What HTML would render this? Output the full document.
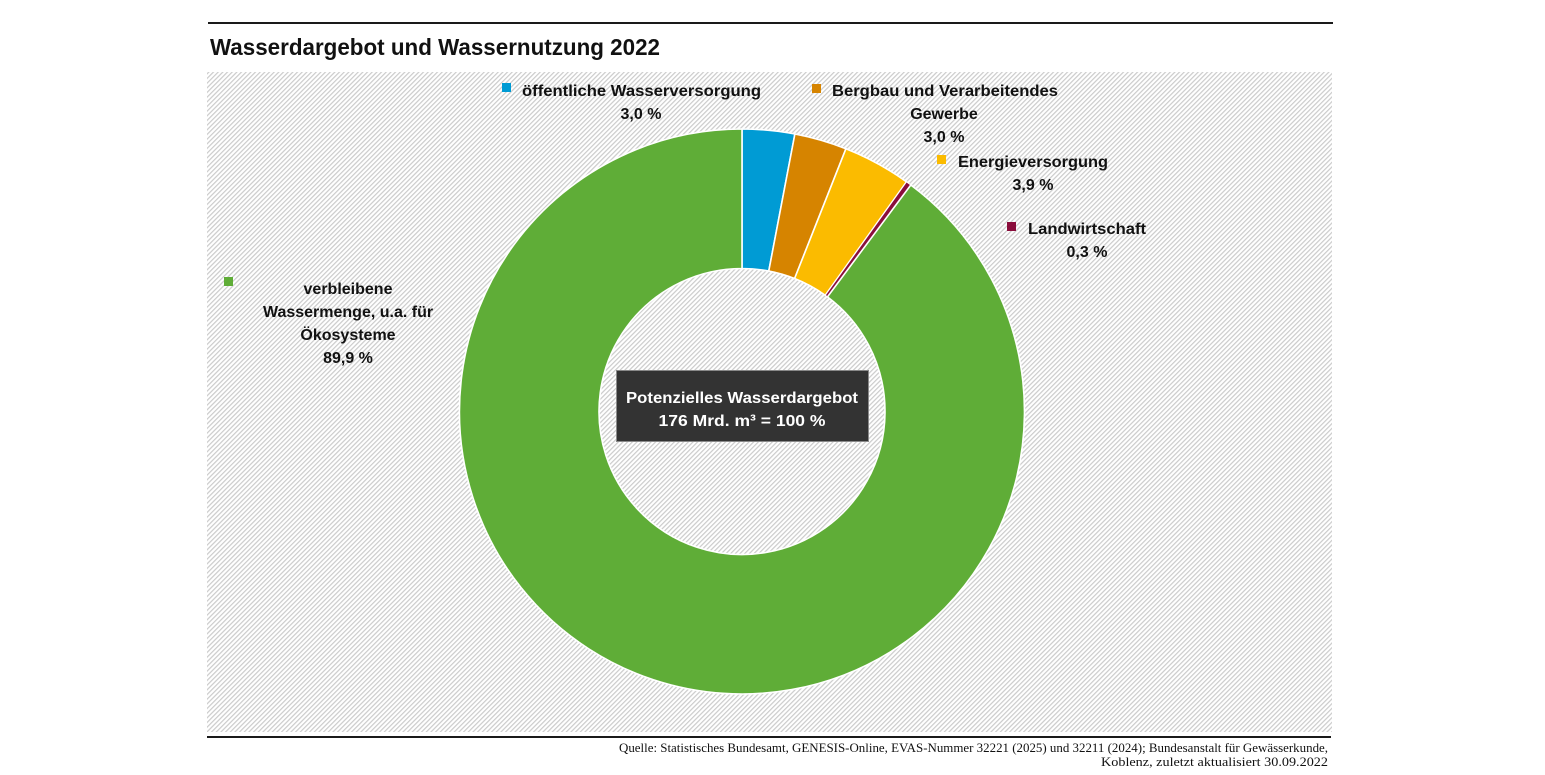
<!DOCTYPE html>
<html>
<head>
<meta charset="utf-8">
<style>
  html,body{margin:0;padding:0;background:#fff;}
  svg{display:block;}
  .lbl{font-family:"Liberation Sans",Arial,sans-serif;font-weight:bold;font-size:16px;fill:#111;}
</style>
</head>
<body>
<svg width="1545" height="775" viewBox="0 0 1545 775" xmlns="http://www.w3.org/2000/svg">
  <defs>
    <pattern id="hatch" patternUnits="userSpaceOnUse" width="3.3" height="10" patternTransform="rotate(45)">
      <rect x="0" y="0" width="3.3" height="10" fill="#ffffff"/>
      <rect x="0" y="0" width="1.2" height="10" fill="#cbcbcb"/>
    </pattern>
  </defs>

  <!-- top rule -->
  <rect x="208" y="22" width="1125" height="2" fill="#1a1a1a"/>

  <!-- title -->
  <text x="210" y="55" font-family="Liberation Sans, Arial, sans-serif" font-weight="bold" font-size="23" fill="#111" textLength="450" lengthAdjust="spacingAndGlyphs">Wasserdargebot und Wassernutzung 2022</text>

  <!-- hatched background -->
  <rect x="207" y="72" width="1125" height="660" fill="url(#hatch)"/>

  <!-- donut -->
  <g stroke="#ffffff" stroke-width="1.6" stroke-linejoin="round">
    <!-- blue -->
    <path d="M742 129 A282.5 282.5 0 0 1 794.88 134.0 L768.77 271.03 A143 143 0 0 0 742 268.5 Z" fill="#009bd4"/>
    <!-- orange -->
    <path d="M794.88 134.0 A282.5 282.5 0 0 1 845.9 148.8 L794.6 278.5 A143 143 0 0 0 768.77 271.03 Z" fill="#d68400"/>
    <!-- yellow -->
    <path d="M845.9 148.8 A282.5 282.5 0 0 1 906.5 181.8 L825.27 295.24 A143 143 0 0 0 794.6 278.5 Z" fill="#fbbb00"/>
    <!-- maroon -->
    <path d="M906.5 181.8 A282.5 282.5 0 0 1 910.8 185.0 L827.46 296.84 A143 143 0 0 0 825.27 295.24 Z" fill="#8a0d3c" stroke-width="1"/>
    <!-- green -->
    <path d="M910.8 185.0 A282.5 282.5 0 1 1 742 129 L742 268.5 A143 143 0 1 0 827.46 296.84 Z" fill="#5fad37"/>
  </g>

  <!-- legend squares -->
  <rect x="502" y="83" width="9" height="9" fill="#009bd4"/>
  <rect x="812" y="84" width="9" height="9" fill="#d68400"/>
  <rect x="937" y="155" width="9" height="9" fill="#fbbb00"/>
  <rect x="1007" y="222" width="9" height="9" fill="#8a0d3c"/>
  <rect x="224" y="277" width="9" height="9" fill="#5fad37"/>

  <!-- labels -->
  <text class="lbl" x="522" y="96" textLength="239" lengthAdjust="spacingAndGlyphs">öffentliche Wasserversorgung</text>
  <text class="lbl" x="641" y="119" text-anchor="middle">3,0 %</text>

  <text class="lbl" x="832" y="96" textLength="226" lengthAdjust="spacingAndGlyphs">Bergbau und Verarbeitendes</text>
  <text class="lbl" x="944" y="119" text-anchor="middle">Gewerbe</text>
  <text class="lbl" x="944" y="142" text-anchor="middle">3,0 %</text>

  <text class="lbl" x="958" y="167" textLength="150" lengthAdjust="spacingAndGlyphs">Energieversorgung</text>
  <text class="lbl" x="1033" y="190" text-anchor="middle">3,9 %</text>

  <text class="lbl" x="1028" y="234" textLength="118" lengthAdjust="spacingAndGlyphs">Landwirtschaft</text>
  <text class="lbl" x="1087" y="257" text-anchor="middle">0,3 %</text>

  <text class="lbl" x="348" y="294" text-anchor="middle">verbleibene</text>
  <text class="lbl" x="348" y="317" text-anchor="middle">Wassermenge, u.a. für</text>
  <text class="lbl" x="348" y="340" text-anchor="middle">Ökosysteme</text>
  <text class="lbl" x="348" y="363" text-anchor="middle">89,9 %</text>

  <!-- center box -->
  <rect x="616.5" y="370.5" width="252" height="71" fill="#333333" stroke="#8a8a8a" stroke-width="1"/>
  <text x="742" y="403" text-anchor="middle" font-family="Liberation Sans, Arial, sans-serif" font-weight="bold" font-size="16" fill="#ffffff" textLength="232" lengthAdjust="spacingAndGlyphs">Potenzielles Wasserdargebot</text>
  <text x="742" y="426" text-anchor="middle" font-family="Liberation Sans, Arial, sans-serif" font-weight="bold" font-size="16" fill="#ffffff" textLength="167" lengthAdjust="spacingAndGlyphs">176 Mrd. m³ = 100 %</text>

  <!-- bottom rule -->
  <rect x="207" y="736" width="1124" height="2" fill="#1a1a1a"/>

  <!-- footer -->
  <text x="1328" y="752" text-anchor="end" font-family="Liberation Serif, serif" font-size="12.5" fill="#111" textLength="709" lengthAdjust="spacingAndGlyphs">Quelle: Statistisches Bundesamt, GENESIS-Online, EVAS-Nummer 32221 (2025) und 32211 (2024); Bundesanstalt für Gewässerkunde,</text>
  <text x="1328" y="766" text-anchor="end" font-family="Liberation Serif, serif" font-size="12.5" fill="#111" textLength="227" lengthAdjust="spacingAndGlyphs">Koblenz, zuletzt aktualisiert 30.09.2022</text>
</svg>
</body>
</html>
